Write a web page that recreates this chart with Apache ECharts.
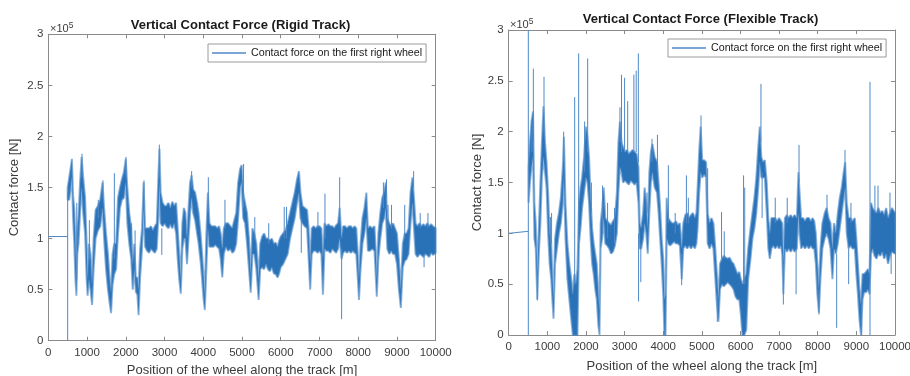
<!DOCTYPE html>
<html><head><meta charset="utf-8">
<script src="https://cdn.jsdelivr.net/npm/echarts@6/dist/echarts.min.js"></script>
<style>html,body{margin:0;padding:0;background:#fff}#c{width:910px;height:376px}</style>
</head><body><div id="c"></div>
<script>
// ---------- axis ticks ----------
const xTicks = [0,1000,2000,3000,4000,5000,6000,7000,8000,9000,10000];
const yTicks = [0,0.5,1,1.5,2,2.5,3];   // ×10^5 N
const seriesName = 'Contact force on the first right wheel';

// ---------- Rigid track (values in ×10^5 N) ----------
const rigidFlatPos = [0, 500];
const rigidFlatVal = [1.02, 1.02];
const rigidPos = [500,540,580,610,640,670,700,725,750,780,820,860,900,950,990,1015,1050,1090,1130,1170,1220,1280,1340,1400,1440,1490,1540,1580,1620,1660,1700,1750,1800,1850,1900,1950,2000,2040,2090,2140,2180,2220,2260,2300,2330,2370,2420,2460,2500,2550,2600,2650,2700,2750,2800,2840,2870,2900,2950,3000,3050,3100,3150,3200,3250,3300,3340,3380,3420,3460,3500,3540,3580,3620,3660,3700,3740,3790,3840,3880,3930,3970,4010,4040,4080,4120,4160,4210,4260,4310,4360,4410,4450,4490,4530,4580,4640,4700,4750,4800,4850,4900,4950,4990,5030,5080,5130,5180,5225,5270,5320,5370,5430,5470,5520,5570,5620,5670,5720,5770,5820,5870,5920,5960,6000,6060,6120,6180,6240,6300,6360,6420,6470,6510,6560,6620,6680,6720,6760,6800,6850,6900,6950,7000,7050,7090,7130,7180,7230,7280,7330,7380,7430,7480,7520,7570,7610,7660,7710,7760,7810,7860,7910,7950,7990,8020,8060,8110,8160,8210,8250,8300,8360,8420,8450,8480,8520,8570,8620,8670,8710,8750,8800,8850,8900,8950,9000,9050,9100,9150,9200,9250,9300,9350,9400,9440,9480,9530,9580,9630,9680,9730,9780,9830,9880,9930,10000];
const rigidLow = [1.38,1.38,1.50,1.60,1.20,0.95,0.60,0.44,0.85,0.95,1.25,1.50,1.25,1.05,0.60,0.44,0.60,0.50,0.35,0.70,1.00,1.08,1.12,1.30,1.00,0.70,0.50,0.38,0.27,0.55,0.65,0.70,1.05,1.30,1.38,1.40,1.55,1.15,0.95,0.80,0.50,0.70,0.48,0.45,0.25,0.62,0.90,1.30,0.92,0.88,0.86,0.90,0.88,0.86,0.90,1.20,1.55,1.15,1.12,1.15,1.12,1.10,1.14,1.10,1.15,1.05,0.80,0.60,0.46,0.90,1.00,1.00,0.75,1.00,1.25,1.40,1.25,1.18,1.05,0.95,0.78,0.60,0.40,0.30,0.70,1.10,0.92,0.92,0.92,0.94,0.92,0.90,0.80,0.62,0.85,0.92,0.88,0.90,0.86,0.88,0.95,1.20,1.50,1.55,1.20,1.15,0.95,0.70,0.47,0.85,0.85,0.70,0.40,0.70,0.72,0.70,0.75,0.70,0.68,0.72,0.66,0.65,0.62,0.66,0.72,0.75,0.80,0.85,1.00,1.10,1.20,1.35,1.45,1.20,1.15,1.12,1.10,0.80,0.50,0.85,0.88,0.88,0.86,0.88,0.85,0.45,0.90,0.88,0.88,0.86,0.90,0.88,0.86,0.90,1.00,0.80,0.86,0.88,0.86,0.88,0.86,0.88,0.86,0.85,0.60,0.40,0.70,0.95,1.05,1.20,0.88,0.88,0.90,0.88,0.65,0.43,0.80,1.00,1.15,1.20,1.30,0.90,0.85,0.88,0.85,0.85,0.75,0.50,0.32,0.72,0.78,0.80,0.85,1.15,1.35,1.10,0.85,0.82,0.85,0.84,0.82,0.85,0.84,0.82,0.86,0.84,0.86];
const rigidHigh = [1.50,1.60,1.70,1.78,1.42,1.30,1.00,0.62,1.10,1.22,1.55,1.80,1.60,1.40,0.95,0.60,0.95,0.85,0.55,1.00,1.28,1.32,1.38,1.55,1.30,1.05,0.85,0.62,0.48,0.85,0.95,0.95,1.40,1.50,1.58,1.65,1.78,1.50,1.25,1.10,0.75,0.95,0.62,0.62,0.50,0.90,1.10,1.55,1.10,1.10,1.10,1.12,1.08,1.12,1.15,1.60,1.88,1.45,1.35,1.32,1.32,1.35,1.30,1.36,1.32,1.35,1.10,0.85,0.60,1.15,1.30,1.25,1.00,1.30,1.55,1.62,1.48,1.45,1.35,1.25,1.05,0.85,0.62,0.45,1.05,1.45,1.15,1.12,1.12,1.12,1.10,1.12,1.05,0.90,1.10,1.15,1.15,1.12,1.10,1.18,1.25,1.55,1.68,1.72,1.45,1.35,1.25,1.00,0.65,1.10,1.05,0.95,0.60,0.95,1.02,1.05,1.00,1.00,0.98,1.00,0.95,0.96,0.92,0.98,1.02,1.05,1.08,1.15,1.25,1.35,1.45,1.58,1.66,1.45,1.32,1.30,1.28,1.10,0.75,1.10,1.12,1.10,1.12,1.12,1.10,0.80,1.15,1.12,1.14,1.12,1.12,1.10,1.13,1.15,1.30,1.00,1.12,1.12,1.10,1.12,1.12,1.10,1.12,1.10,0.85,0.60,0.95,1.20,1.30,1.45,1.10,1.12,1.10,1.12,0.90,0.60,1.05,1.25,1.40,1.45,1.55,1.20,1.15,1.12,1.15,1.10,1.05,0.80,0.50,0.95,1.05,1.05,1.10,1.45,1.60,1.40,1.15,1.12,1.15,1.12,1.14,1.12,1.15,1.12,1.14,1.12,1.10];
// thin excursions: [position, from, to]
const rigidSpikes = [[500,0,1.45],[735,0.6,1.35],[870,1.6,1.83],[1060,0.8,1.18],[1290,1.2,1.38],[1410,1.4,1.57],[1705,0.8,1.64],[2005,1.6,1.80],[2150,0.9,1.15],[2240,0.7,1.08],[2470,1.3,1.57],[2866,1.6,1.92],[2930,1.1,0.84],[3700,1.5,1.66],[4131,1.3,1.60],[4560,1.1,1.38],[5040,1.3,1.73],[5330,1.0,1.21],[5690,0.95,1.15],[6090,1.0,1.31],[6150,1.0,1.31],[6530,1.2,0.86],[6960,1.1,1.26],[7142,1.0,1.44],[7521,1.2,1.60],[7572,0.9,0.21],[8650,1.3,1.55],[8730,1.4,1.58],[8770,1.1,1.33],[8860,1.1,1.33],[9200,1.0,1.33],[9430,1.5,1.66],[9600,1.1,1.25],[9700,0.85,0.72],[9800,1.1,1.25]];

// ---------- Flexible track (values in ×10^5 N) ----------
const flexFlatPos = [0, 508];
const flexFlatVal = [1.00, 1.02];
const flexPos = [515,550,590,630,665,700,740,780,820,860,900,940,980,1020,1060,1100,1130,1160,1200,1250,1300,1350,1400,1430,1470,1520,1570,1620,1660,1700,1740,1780,1820,1860,1900,1950,2000,2040,2080,2120,2160,2200,2240,2280,2320,2350,2380,2420,2460,2500,2550,2600,2650,2700,2750,2800,2840,2880,2920,2960,3010,3060,3110,3160,3210,3260,3310,3360,3390,3430,3480,3520,3560,3600,3640,3680,3720,3780,3840,3880,3920,3960,4000,4030,4060,4090,4130,4180,4230,4280,4330,4380,4430,4480,4520,4570,4620,4670,4720,4770,4820,4860,4890,4930,4970,5010,5060,5110,5150,5200,5250,5300,5340,5390,5430,5470,5520,5570,5620,5670,5720,5770,5820,5870,5920,5970,6010,6050,6100,6150,6200,6260,6310,6360,6410,6460,6500,6540,6580,6630,6680,6720,6760,6800,6850,6900,6950,7000,7050,7080,7110,7150,7200,7250,7300,7350,7400,7460,7500,7530,7570,7620,7670,7720,7770,7820,7870,7910,7950,7990,8030,8070,8120,8180,8230,8280,8330,8380,8420,8470,8520,8570,8620,8670,8710,8750,8800,8850,8900,8960,9000,9040,9080,9120,9160,9200,9250,9300,9340,9380,9420,9470,9520,9570,9620,9670,9720,9770,9820,9870,9920,10000];
const flexLow = [1.30,1.50,1.65,1.75,0.95,0.85,0.35,0.80,1.10,1.55,1.75,1.60,1.45,1.00,0.70,0.55,0.35,0.16,0.70,0.85,1.00,1.10,1.30,1.55,0.95,0.55,0.35,0.15,0.00,0.00,0.00,0.00,0.90,1.05,1.25,1.40,1.55,1.50,1.30,0.95,0.70,0.60,0.45,0.35,0.10,0.00,0.85,0.95,1.15,0.90,0.88,0.85,0.80,0.82,0.88,1.00,1.40,1.65,1.60,1.50,1.52,1.50,1.48,1.52,1.50,1.48,1.50,1.30,0.85,0.85,0.95,1.10,1.00,0.80,1.20,1.50,1.60,1.45,1.40,1.20,0.95,0.70,0.40,0.00,0.00,0.95,0.90,0.88,0.90,0.92,0.90,0.90,0.88,0.55,0.85,0.88,0.85,0.88,0.85,0.88,0.85,0.90,1.05,1.40,1.60,1.55,1.58,1.55,0.90,0.85,0.90,0.85,0.60,0.30,0.13,0.45,0.50,0.48,0.50,0.52,0.50,0.48,0.45,0.38,0.35,0.35,0.20,0.00,0.00,0.05,0.55,0.75,0.95,1.05,1.20,1.45,1.70,1.55,1.55,1.55,1.20,0.85,0.75,0.85,0.88,0.85,0.88,0.85,0.88,0.80,0.40,0.85,0.82,0.85,0.82,0.85,0.82,0.85,1.20,1.00,0.85,0.88,0.85,0.88,0.85,0.88,0.85,0.85,0.70,0.40,0.22,0.55,0.85,0.95,1.00,0.95,0.85,0.55,0.85,0.80,0.90,1.05,1.20,1.35,1.45,1.00,0.85,0.88,0.85,0.85,0.60,0.40,0.15,0.00,0.35,0.42,0.42,0.45,0.40,0.80,0.85,0.78,0.75,0.80,0.78,0.82,0.75,0.80,0.70,0.78,0.82,0.80];
const flexHigh = [1.65,1.90,2.10,2.20,1.30,1.10,0.60,1.05,1.50,1.90,2.25,1.90,1.70,1.40,1.00,0.90,0.60,0.35,0.95,1.10,1.20,1.35,1.65,1.95,1.30,0.90,0.70,0.55,0.40,0.60,0.50,0.65,1.30,1.45,1.55,1.75,2.05,1.95,1.75,1.35,1.05,0.90,0.80,0.70,0.40,0.25,1.10,1.25,1.45,1.15,1.12,1.10,1.08,1.12,1.15,1.40,1.90,2.10,1.90,1.85,1.80,1.82,1.78,1.80,1.82,1.80,1.78,1.65,1.10,1.05,1.20,1.45,1.30,1.05,1.60,1.80,1.88,1.75,1.70,1.50,1.25,0.95,0.75,0.35,0.40,1.35,1.15,1.12,1.10,1.10,1.12,1.08,1.10,0.85,1.10,1.18,1.20,1.15,1.18,1.20,1.15,1.20,1.45,1.80,2.05,1.72,1.72,1.70,1.20,1.10,1.15,1.10,0.90,0.60,0.35,0.70,0.75,0.78,0.76,0.75,0.76,0.72,0.70,0.65,0.60,0.62,0.55,0.50,0.55,0.60,0.85,1.05,1.20,1.35,1.55,1.85,2.05,1.75,1.70,1.72,1.50,1.15,1.00,1.15,1.15,1.15,1.12,1.15,1.12,1.10,0.70,1.15,1.18,1.15,1.18,1.15,1.18,1.15,1.60,1.40,1.15,1.15,1.12,1.15,1.15,1.12,1.15,1.12,1.00,0.70,0.45,0.85,1.10,1.20,1.25,1.15,1.10,0.85,1.10,1.00,1.20,1.35,1.45,1.60,1.70,1.30,1.15,1.15,1.12,1.15,0.95,0.70,0.45,0.30,0.60,0.60,0.62,0.65,0.60,1.30,1.25,1.22,1.20,1.25,1.20,1.22,1.18,1.25,1.15,1.20,1.25,1.20];
const flexSpikes = [[508,0,3.0],[600,1.8,2.1],[638,1.9,2.62],[742,0.6,0.34],[914,2.0,2.54],[1080,0.9,1.16],[1110,0.9,1.20],[1423,1.7,2.0],[1708,0.5,2.34],[1811,0.9,2.77],[1965,1.6,2.1],[2044,1.8,2.72],[2140,1.2,1.5],[2430,1.0,1.47],[2560,0.95,1.3],[2740,0.9,1.25],[2880,1.9,2.24],[2920,1.8,2.56],[3000,1.8,2.53],[3080,1.8,2.3],[3240,1.8,2.56],[3300,1.8,2.6],[3356,1.7,2.77],[3362,1.0,0.33],[3420,0.9,0.52],[3580,1.2,1.4],[3710,1.7,1.93],[3850,1.6,1.97],[4133,1.1,1.67],[4310,1.0,1.2],[4478,0.8,0.49],[4600,1.1,1.57],[4650,1.1,1.35],[4978,1.9,2.16],[5150,1.2,1.64],[5400,0.4,0.13],[5510,0.75,1.21],[5580,0.75,1.02],[6080,0.5,1.57],[6110,0.5,1.45],[6530,1.9,2.47],[6560,1.6,1.15],[6900,1.1,1.35],[7110,0.7,0.30],[7210,1.1,1.35],[7440,0.85,0.4],[7515,1.5,1.87],[8033,0.45,0.20],[8240,1.2,1.38],[8490,0.8,0.07],[8706,1.6,1.82],[8800,0.85,0.5],[8860,1.1,1.3],[9137,0.3,0.0],[9353,0.0,2.49],[9480,1.2,1.47],[9560,1.2,1.47],[9870,1.2,1.4],[9900,0.8,0.6]];

// ---------- styling ----------
const FONT = "'Liberation Sans', Arial, Helvetica, sans-serif";
const BAND = '#2a72b7';
const THIN = '#4f89c7';
const AXIS = '#8a8a8a';
const LABEL = '#3c3c3c';

const grids = [
  {left: 48.3, top: 34.3, width: 387.4, height: 306.4, outerBoundsMode: 'none', containLabel: false},
  {left: 508.7, top: 30, width: 386.3, height: 305, outerBoundsMode: 'none', containLabel: false}
];

function xAxes(g, gap) {
  const base = {
    type: 'value', gridIndex: g, min: xTicks[0], max: xTicks[xTicks.length-1],
    interval: xTicks[1] - xTicks[0],
    axisLine: {show: true, onZero: false, lineStyle: {color: AXIS, width: 1}},
    axisTick: {show: true, inside: true, length: 4, lineStyle: {color: AXIS}},
    splitLine: {show: false}
  };
  return [
    Object.assign({}, base, {
      position: 'bottom',
      axisLabel: {formatter: v => String(v), fontSize: 11.5, color: LABEL, fontFamily: FONT, margin: 6},
      name: 'Position of the wheel along the track [m]', nameLocation: 'middle', nameGap: gap,
      nameTextStyle: {fontSize: 13, color: LABEL, fontFamily: FONT}
    }),
    Object.assign({}, base, {position: 'top', axisLabel: {show: false}})
  ];
}
function yAxes(g, gap) {
  const base = {
    type: 'value', gridIndex: g, min: yTicks[0], max: yTicks[yTicks.length-1],
    interval: yTicks[1] - yTicks[0],
    axisLine: {show: true, onZero: false, lineStyle: {color: AXIS, width: 1}},
    axisTick: {show: true, inside: true, length: 4, lineStyle: {color: AXIS}},
    splitLine: {show: false}
  };
  return [
    Object.assign({}, base, {
      position: 'left',
      axisLabel: {fontSize: 11.5, color: LABEL, fontFamily: FONT, margin: 5},
      name: 'Contact force [N]', nameLocation: 'middle', nameGap: gap,
      nameTextStyle: {fontSize: 13, color: LABEL, fontFamily: FONT}
    }),
    Object.assign({}, base, {position: 'right', axisLabel: {show: false}})
  ];
}

function bandSeries(axisIdx, pos, lo, hi) {
  return {
    type: 'custom', xAxisIndex: axisIdx, yAxisIndex: axisIdx, silent: true,
    data: [[pos[0], lo[0]]],
    renderItem: function (params, api) {
      const pts = [];
      for (let i = 0; i < pos.length; i++) pts.push(api.coord([pos[i], hi[i]]));
      for (let i = pos.length - 1; i >= 0; i--) pts.push(api.coord([pos[i], lo[i]]));
      return {type: 'polygon', shape: {points: pts},
        style: {fill: BAND, stroke: 'rgba(62,128,195,0.6)', lineWidth: 2, lineJoin: 'bevel'}};
    }
  };
}
function spikeSeries(axisIdx, spikes) {
  return {
    type: 'custom', xAxisIndex: axisIdx, yAxisIndex: axisIdx, silent: true,
    data: spikes, encode: {x: 0, y: [1, 2]},
    renderItem: function (params, api) {
      const a = api.coord([api.value(0), api.value(1)]);
      const b = api.coord([api.value(0), api.value(2)]);
      return {type: 'line', shape: {x1: a[0], y1: a[1], x2: b[0], y2: b[1]},
        style: {stroke: THIN, lineWidth: 1}};
    }
  };
}
function flatSeries(axisIdx, p, v) {
  return {
    type: 'line', name: seriesName, xAxisIndex: axisIdx, yAxisIndex: axisIdx,
    data: p.map((x, i) => [x, v[i]]), symbol: 'none', showSymbol: false,
    lineStyle: {color: THIN, width: 1}, itemStyle: {color: THIN}
  };
}

const legendBase = {
  data: [{name: seriesName, icon: 'rect'}], orient: 'horizontal',
  itemWidth: 34, itemHeight: 1.4, itemGap: 0,
  padding: [3, 4, 3, 4], borderColor: '#9a9a9a', borderWidth: 1, backgroundColor: '#fff',
  textStyle: {fontSize: 10.7, color: '#1a1a1a', fontFamily: FONT, lineHeight: 12}, selectedMode: false
};

const chart = echarts.init(document.getElementById('c'), null, {renderer: 'canvas'});
chart.setOption({
  animation: false,
  backgroundColor: '#fff',
  title: [
    {text: 'Vertical Contact Force (Rigid Track)', left: 240.5, top: 18.5, textAlign: 'center', padding: 0,
     textStyle: {fontSize: 13, fontWeight: 'bold', color: '#1a1a1a', fontFamily: FONT}},
    {text: 'Vertical Contact Force (Flexible Track)', left: 700.5, top: 13, textAlign: 'center', padding: 0,
     textStyle: {fontSize: 13, fontWeight: 'bold', color: '#1a1a1a', fontFamily: FONT}}
  ],
  legend: [
    Object.assign({}, legendBase, {left: 208, top: 44}),
    Object.assign({}, legendBase, {left: 668, top: 39})
  ],
  grid: grids,
  xAxis: [].concat(xAxes(0, 22), xAxes(1, 25)),
  yAxis: [].concat(yAxes(0, 27), yAxes(1, 25)),
  graphic: [
    {type: 'text', left: 50, top: 21, silent: true,
     style: {text: '×10{s|5}', fill: LABEL, font: '11px ' + FONT, rich: {s: {fontSize: 8.5, verticalAlign: 'top', fill: LABEL, fontFamily: FONT, padding: [0,0,6,0]}}}},
    {type: 'text', left: 510, top: 17, silent: true,
     style: {text: '×10{s|5}', fill: LABEL, font: '11px ' + FONT, rich: {s: {fontSize: 8.5, verticalAlign: 'top', fill: LABEL, fontFamily: FONT, padding: [0,0,6,0]}}}}
  ],
  series: [
    flatSeries(0, rigidFlatPos, rigidFlatVal),
    bandSeries(0, rigidPos, rigidLow, rigidHigh),
    spikeSeries(0, rigidSpikes),
    flatSeries(2, flexFlatPos, flexFlatVal),
    bandSeries(2, flexPos, flexLow, flexHigh),
    spikeSeries(2, flexSpikes)
  ]
});
</script>
</body></html>
